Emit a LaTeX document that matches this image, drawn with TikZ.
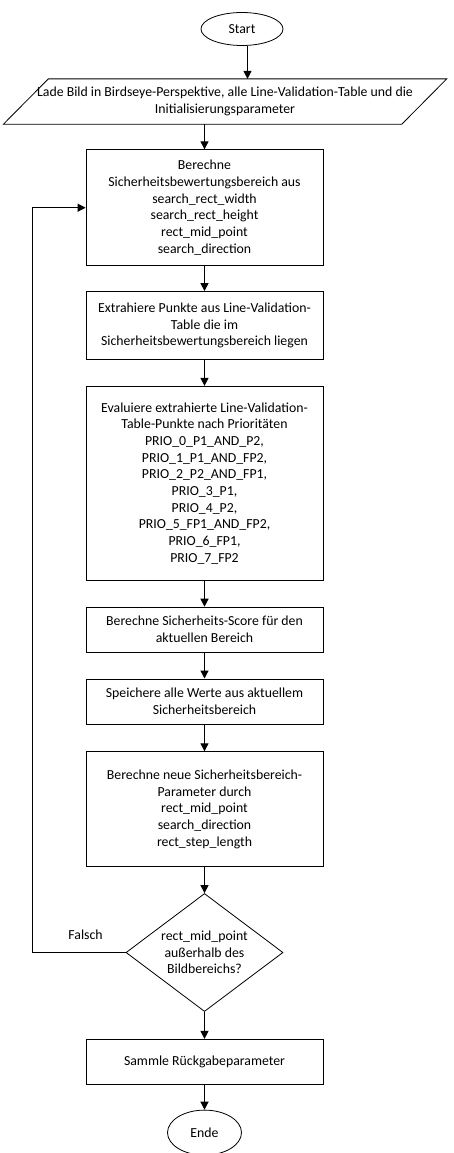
\documentclass[tikz,border=0pt]{standalone}
\usepackage{fontspec}
\setmainfont{Carlito}
\usetikzlibrary{arrows.meta,shapes.geometric,positioning}

\begin{document}
\begin{tikzpicture}[>={Triangle[length=8pt,width=8pt]},node distance=26pt,
    font=\fontsize{13.8}{16.7}\selectfont,
    box/.style={draw,rectangle,minimum width=237pt,align=center,inner sep=2pt,line width=0.8pt},
    term/.style={draw,ellipse,inner sep=0pt,line width=0.8pt},
    flow/.style={->,line width=1.2pt}]
\useasboundingbox (0,0) rectangle (454pt,-1153pt);

\node[term,minimum width=82pt,minimum height=33pt] (A) at (242pt,-29pt) {Start};
\node[rectangle,minimum width=398pt,minimum height=45pt,inner sep=0pt,align=center] (B) [below=33pt of A,xshift=-17pt] {Lade Bild in Birdseye-Perspektive, alle Line-Validation-Table und die\\Initialisierungsparameter};
\node[box,minimum height=116pt] (C) [below=25pt of B,xshift=-20.5pt] {Berechne\\Sicherheitsbewertungsbereich aus\\search\_rect\_width\\search\_rect\_height\\rect\_mid\_point\\search\_direction};
\node[box,minimum height=68pt] (D) [below=25pt of C] {Extrahiere Punkte aus Line-Validation-\\Table die im\\Sicherheitsbewertungsbereich liegen};
\node[box,minimum height=194pt] (E) [below=of D] {Evaluiere extrahierte Line-Validation-\\Table-Punkte nach Prioritäten\\PRIO\_0\_P1\_AND\_P2,\\PRIO\_1\_P1\_AND\_FP2,\\PRIO\_2\_P2\_AND\_FP1,\\PRIO\_3\_P1,\\PRIO\_4\_P2,\\PRIO\_5\_FP1\_AND\_FP2,\\PRIO\_6\_FP1,\\PRIO\_7\_FP2};
\node[box,minimum height=45pt] (F) [below=of E] {Berechne Sicherheits-Score für den\\aktuellen Bereich};
\node[box,minimum height=45pt] (G) [below=of F] {Speichere alle Werte aus aktuellem\\Sicherheitsbereich};
\node[box,minimum height=115pt] (H) [below=27pt of G] {Berechne neue Sicherheitsbereich-\\Parameter durch\\rect\_mid\_point\\search\_direction\\rect\_step\_length};
\node[draw,diamond,aspect=1.33,minimum width=157pt,minimum height=118pt,inner sep=0pt,align=center,line width=0.8pt] (I) [below=of H] {rect\_mid\_point\\außerhalb des\\Bildbereichs?};
\node[box,minimum height=45pt] (J) [below=27pt of I] {Sammle Rückgabeparameter};
\node[term,minimum width=74pt,minimum height=45pt] (K) [below=25pt of J] {Ende};

% parallelogram round B
\draw[line width=0.8pt] ([xshift=22.5pt]B.north west) -- ([xshift=22.5pt]B.north east)
    -- ([xshift=-22.5pt]B.south east) -- ([xshift=-22.5pt]B.south west) -- cycle;
\coordinate (Btop) at ([xshift=22.5pt]B.north);
\coordinate (Bbot) at ([xshift=-22.5pt]B.south);
\coordinate[left=93pt of I.west] (L);

\draw[flow] (A.south -| Btop) -- (Btop);
\draw[flow] (C.north |- Bbot) -- (C.north);
\draw[flow] (C) -- (D);
\draw[flow] (D) -- (E);
\draw[flow] (E) -- (F);
\draw[flow] (F) -- (G);
\draw[flow] (G) -- (H);
\draw[flow] (H) -- (I);
\draw[flow] (I) -- (J);
\draw[flow] (J) -- (K);
\draw[flow] (I.west) -- node[above=9pt,pos=0.43] {Falsch} (L) |- (C.west);
\end{tikzpicture}
\end{document}
